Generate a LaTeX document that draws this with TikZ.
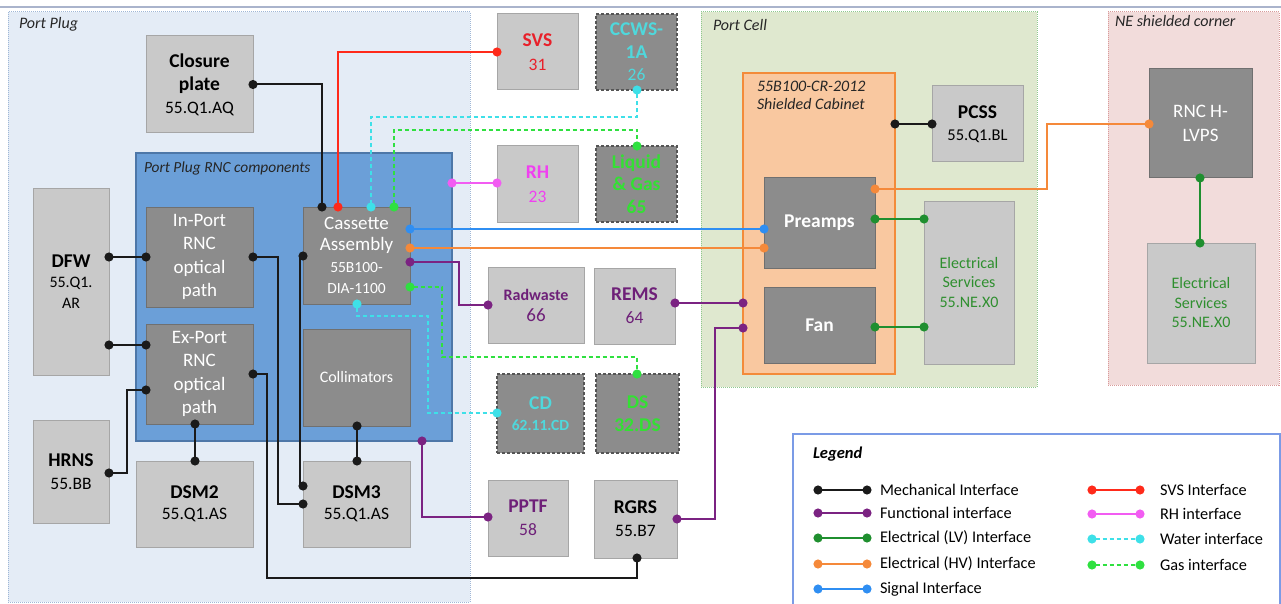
\documentclass[tikz,border=0pt]{standalone}
\usepackage{fontspec}
\setmainfont{Carlito}
\usetikzlibrary{arrows.meta}
\definecolor{mechC}{HTML}{1A1A1A}
\definecolor{funcC}{HTML}{7B2382}
\definecolor{lvC}{HTML}{1F8F2F}
\definecolor{hvC}{HTML}{F5893A}
\definecolor{sigC}{HTML}{2F8EF2}
\definecolor{svsC}{HTML}{FF2A1A}
\definecolor{rhC}{HTML}{F25CF2}
\definecolor{waterC}{HTML}{3EE0E8}
\definecolor{gasC}{HTML}{2FE040}
\definecolor{svsT}{HTML}{E8202A}
\definecolor{rhT}{HTML}{F040F0}
\definecolor{cyanT}{HTML}{4FD8DC}
\definecolor{greenT}{HTML}{33E033}
\definecolor{purT}{HTML}{6E2078}
\definecolor{esT}{HTML}{2F8F2F}
\definecolor{boxfill}{HTML}{C9C9C9}
\definecolor{boxedge}{HTML}{A6A6A6}
\definecolor{dboxfill}{HTML}{8C8C8C}
\definecolor{dboxedge}{HTML}{707070}
\definecolor{dashedge}{HTML}{555555}
\definecolor{ppFill}{HTML}{E4ECF6}
\definecolor{ppEdge}{HTML}{9FB7D6}
\definecolor{rncFill}{HTML}{6B9FD8}
\definecolor{rncEdge}{HTML}{4D77A8}
\definecolor{pcFill}{HTML}{DFE8CF}
\definecolor{pcEdge}{HTML}{8FC98F}
\definecolor{cabFill}{HTML}{F9C8A0}
\definecolor{cabEdge}{HTML}{F38B3A}
\definecolor{neFill}{HTML}{F2DCDB}
\definecolor{neEdge}{HTML}{D99A9A}
\definecolor{lgEdge}{HTML}{7B9BE6}
\definecolor{topLine}{HTML}{AAB4CC}
\newcommand\Ttl{\fontsize{19.5}{23.5}\selectfont\bfseries}
\newcommand\Sub{\fontsize{17.5}{23}\selectfont}
\newcommand\Sm{\fontsize{16}{20}\selectfont}
\newcommand\Wt{\fontsize{19}{23.5}\selectfont}
\newcommand\Lab{\fontsize{16}{18.5}\selectfont\itshape}
\begin{document}
\begin{tikzpicture}[x=1pt,y=-1pt,
  every node/.style={inner sep=0pt, outer sep=0pt},
  wh/.style 2 args={minimum width=#1pt, minimum height=#2pt},
  bs/.style={font=\fontsize{17.5}{#1}\selectfont},
  lbox/.style={draw=boxedge, fill=boxfill, line width=1pt, align=center, bs=23},
  dbox/.style={draw=dboxedge, fill=dboxfill, line width=1pt, align=center, text=white, bs=23.5},
  dashbox/.style={draw=dashedge, fill=dboxfill, line width=1.2pt, dash pattern=on 3pt off 2pt, align=center, bs=22.5},
  conn/.style={line width=2pt, {Circle[length=9pt]}-{Circle[length=9pt]}, shorten <=-4.5pt, shorten >=-4.5pt},
  mech/.style={conn, draw=mechC},
  func/.style={conn, draw=funcC},
  lv/.style={conn, draw=lvC},
  hv/.style={conn, draw=hvC},
  sig/.style={conn, draw=sigC},
  svsl/.style={conn, draw=svsC},
  rhl/.style={conn, draw=rhC},
  water/.style={conn, draw=waterC, dash pattern=on 4pt off 3pt},
  gas/.style={conn, draw=gasC, dash pattern=on 4pt off 3pt},
  lab/.style={anchor=base west, font=\Lab, text=black!85}
]
\useasboundingbox (0,0) rectangle (1281,604);
\fill[white] (0,0) rectangle (1281,604);
\coordinate (tl) at (0,7);
\coordinate (tr) at (1281,7);
\draw[topLine, line width=2pt] (tl) -- (tr);

% containers
\node[draw=ppEdge, fill=ppFill, densely dotted, line width=1pt, wh={462}{590}] (portplug) at (239,307) {};
\node[draw=pcEdge, fill=pcFill, densely dotted, line width=1pt, wh={336}{375}] (portcell) at (869,199.5) {};
\node[draw=neEdge, fill=neFill, densely dotted, line width=1pt, wh={171}{373}] (necorner) at (1193.5,198.5) {};
\node[draw=lgEdge, line width=1.5pt, wh={487}{180}] (legend) at (1036.5,524) {};
\node[draw=rncEdge, fill=rncFill, line width=1.5pt, wh={316}{288}] (rnc) at (294,297) {};
\node[draw=cabEdge, fill=cabFill, line width=1.5pt, wh={152}{301}] (cabinet) at (819,223.5) {};

\node[lab] (lpp) at (19,29) {Port Plug};
\node[lab, font=\fontsize{15.4}{18}\selectfont\itshape] (lrnc) at (144,172) {Port Plug RNC components};
\node[lab] (lpc) at (713,31) {Port Cell};
\node[lab] (lne) at (1115,27) {NE shielded corner};
\node[anchor=base west, align=left, font=\Lab, text=black!85] (lcab) at (757,110) {55B100-CR-2012\\Shielded Cabinet};

% boxes - port plug
\node[lbox, wh={107}{97}] (closure) at (199.5,84.5) {\Ttl Closure\\\Ttl plate\\\Sub 55.Q1.AQ};
\node[lbox, bs=20.5, wh={76}{187}] (dfw) at (71,281.5) {\Ttl DFW\\\Sm 55.Q1.\\\Sm AR};
\node[dbox, wh={107}{100}] (inport) at (199.5,257) {\Wt In-Port\\\Wt RNC\\\Wt optical\\\Wt path};
\node[dbox, wh={107}{100}] (export) at (199.5,374) {\Wt Ex-Port\\\Wt RNC\\\Wt optical\\\Wt path};
\node[dbox, bs=21.5, wh={107}{97}] (cassette) at (356.5,255.5) {\Wt Cassette\\\Wt Assembly\\\fontsize{15.5}{19}\selectfont 55B100-\\\fontsize{15.5}{19}\selectfont DIA-1100};
\node[dbox, wh={107}{97}] (collim) at (356.5,377.5) {\fontsize{16}{19}\selectfont Collimators};
\node[lbox, wh={76}{103}] (hrns) at (71,471.5) {\Ttl HRNS\\\Sub 55.BB};
\node[lbox, bs=21.5, wh={117}{86}] (dsm2) at (194.5,504) {\Ttl DSM2\\\Sub 55.Q1.AS};
\node[lbox, bs=21.5, wh={107}{86}] (dsm3) at (356.5,504) {\Ttl DSM3\\\Sub 55.Q1.AS};

% middle column
\node[lbox, bs=23.5, wh={81}{76}, text=svsT] (svs) at (537.5,52) {\Ttl SVS\\\Sub 31};
\node[dashbox, wh={81}{76}, text=cyanT] (ccws) at (636.5,52) {\Ttl CCWS-\\\Ttl 1A\\\Sub 26};
\node[lbox, bs=23.5, wh={81}{76}, text=rhT] (rh) at (537.5,184) {\Ttl RH\\\Sub 23};
\node[dashbox, wh={81}{76}, text=greenT] (liq) at (636.5,184) {\Ttl Liquid\\\Ttl \& Gas\\\Ttl 65};
\node[lbox, bs=21, wh={96}{76}, text=purT] (radw) at (536,305) {\fontsize{16}{21}\selectfont\bfseries Radwaste\\\fontsize{19}{23}\selectfont 66};
\node[lbox, wh={81}{76}, text=purT] (rems) at (634.5,306) {\Ttl REMS\\\Sub 64};
\node[dashbox, bs=20.5, wh={87}{79}, text=cyanT] (cd) at (540.5,413.5) {\Ttl CD\\\fontsize{15.5}{21}\selectfont\bfseries 62.11.CD};
\node[dashbox, bs=23, wh={83}{79}, text=greenT] (ds) at (637.5,413.5) {\Ttl DS\\\Ttl 32.DS};
\node[lbox, wh={80}{76}, text=purT] (pptf) at (528,518) {\Ttl PPTF\\\Sub 58};
\node[lbox, wh={83}{78}] (rgrs) at (635.5,519) {\Ttl RGRS\\\Sub 55.B7};

% port cell
\node[lbox, bs=22, wh={91}{76}] (pcss) at (977.5,124) {\Ttl PCSS\\\fontsize{16.5}{22}\selectfont 55.Q1.BL};
\node[dbox, wh={111}{90}] (preamps) at (819.5,223) {\fontsize{19.5}{23}\selectfont\bfseries Preamps};
\node[dbox, wh={111}{76}] (fan) at (819.5,325) {\fontsize{19.5}{23}\selectfont\bfseries Fan};
\node[lbox, bs=19.5, wh={90}{163}, text=esT] (es1) at (969,282.5) {\Sm Electrical\\\Sm Services\\\Sm 55.NE.X0};

% NE corner
\node[dbox, wh={103}{109}] (hlvps) at (1200.5,123.5) {\Wt RNC H-\\\Wt LVPS};
\node[lbox, bs=19.5, wh={108}{120}, text=esT] (es2) at (1201,303) {\Sm Electrical\\\Sm Services\\\Sm 55.NE.X0};

% connectors - mechanical
\draw[mech] (closure.east) -| (cassette.north -| 322,0);
\draw[mech] (dfw.east |- 0,257) -- (inport.west |- 0,257);
\draw[mech] (dfw.east |- 0,345) -- (export.west |- 0,345);
\draw[mech] (inport.east) -- (278,257) |- (dsm3.west |- 0,504);
\draw[mech] (cassette.west |- 0,256) -- (300,256) |- (dsm3.west |- 0,486);
\draw[mech] (export.east |- 0,374) -- (267,374) -- (267,578) -| (rgrs.south -| 637,0);
\draw[mech] (hrns.east |- 0,473) -- (127,473) |- (export.west |- 0,390);
\draw[mech] (export.south -| 195,0) -- (dsm2.north -| 195,0);
\draw[mech] (collim.south -| 357,0) -- (dsm3.north -| 357,0);
\draw[mech] (cabinet.east |- 0,124) -- (pcss.west |- 0,124);
% SVS
\draw[svsl] (cassette.north -| 338,0) |- (svs.west |- 0,52);
% water
\draw[water] (cassette.north -| 371,0) |- (637,117) -- (ccws.south -| 637,0);
\draw[water] (cassette.south -| 357,0) -- (357,316) -| (428,413) -- (cd.west |- 0,413);
% gas
\draw[gas] (cassette.north -| 394,0) |- (637,130) -- (liq.north -| 637,0);
\draw[gas] (cassette.east |- 0,287) -| (442,357) -| (ds.north -| 637,0);
% RH
\draw[rhl] (rnc.east |- 0,183) -- (rh.west |- 0,183);
% signal
\draw[sig] (cassette.east |- 0,229) -- (preamps.west |- 0,229);
% HV
\draw[hv] (cassette.east |- 0,248) -- (preamps.west |- 0,248);
\draw[hv] (preamps.east |- 0,189) -- (1047,189) |- (hlvps.west |- 0,124);
% functional
\draw[func] (cassette.east |- 0,262) -- (459,262) |- (radw.west |- 0,305);
\draw[func] (rnc.south -| 422,0) |- (pptf.west |- 0,517);
\draw[func] (rems.east |- 0,303) -- (cabinet.west |- 0,303);
\draw[func] (rgrs.east |- 0,519) -- (715,519) |- (cabinet.west |- 0,328);
% LV
\draw[lv] (preamps.east |- 0,219) -- (es1.west |- 0,219);
\draw[lv] (fan.east |- 0,327) -- (es1.west |- 0,327);
\draw[lv] (hlvps.south -| 1200,0) -- (es2.north -| 1200,0);

% legend
\node[anchor=base west, font=\fontsize{16.5}{20}\selectfont\bfseries\itshape] (lgt) at (813,458) {Legend};
\foreach \nm/\st/\yy/\tx in {a/mech/490/Mechanical Interface, b/func/513/Functional interface, c/lv/538/Electrical (LV) Interface, d/hv/564/Electrical (HV) Interface, e/sig/589/Signal Interface}{
  \coordinate (lg\nm1) at (818,\yy);
  \coordinate (lg\nm2) at (867,\yy);
  \draw[\st] (lg\nm1) -- (lg\nm2);
  \node[anchor=west, font=\fontsize{16.3}{20}\selectfont] (lgt\nm) at (880,\yy) {\tx};
}
\foreach \nm/\st/\yy/\tx in {f/svsl/490/SVS Interface, g/rhl/514/RH interface, h/water/539/Water interface, i/gas/565/Gas interface}{
  \coordinate (lg\nm1) at (1092,\yy);
  \coordinate (lg\nm2) at (1140,\yy);
  \draw[\st] (lg\nm1) -- (lg\nm2);
  \node[anchor=west, font=\fontsize{16.3}{20}\selectfont] (lgt\nm) at (1160,\yy) {\tx};
}
\end{tikzpicture}
\end{document}
